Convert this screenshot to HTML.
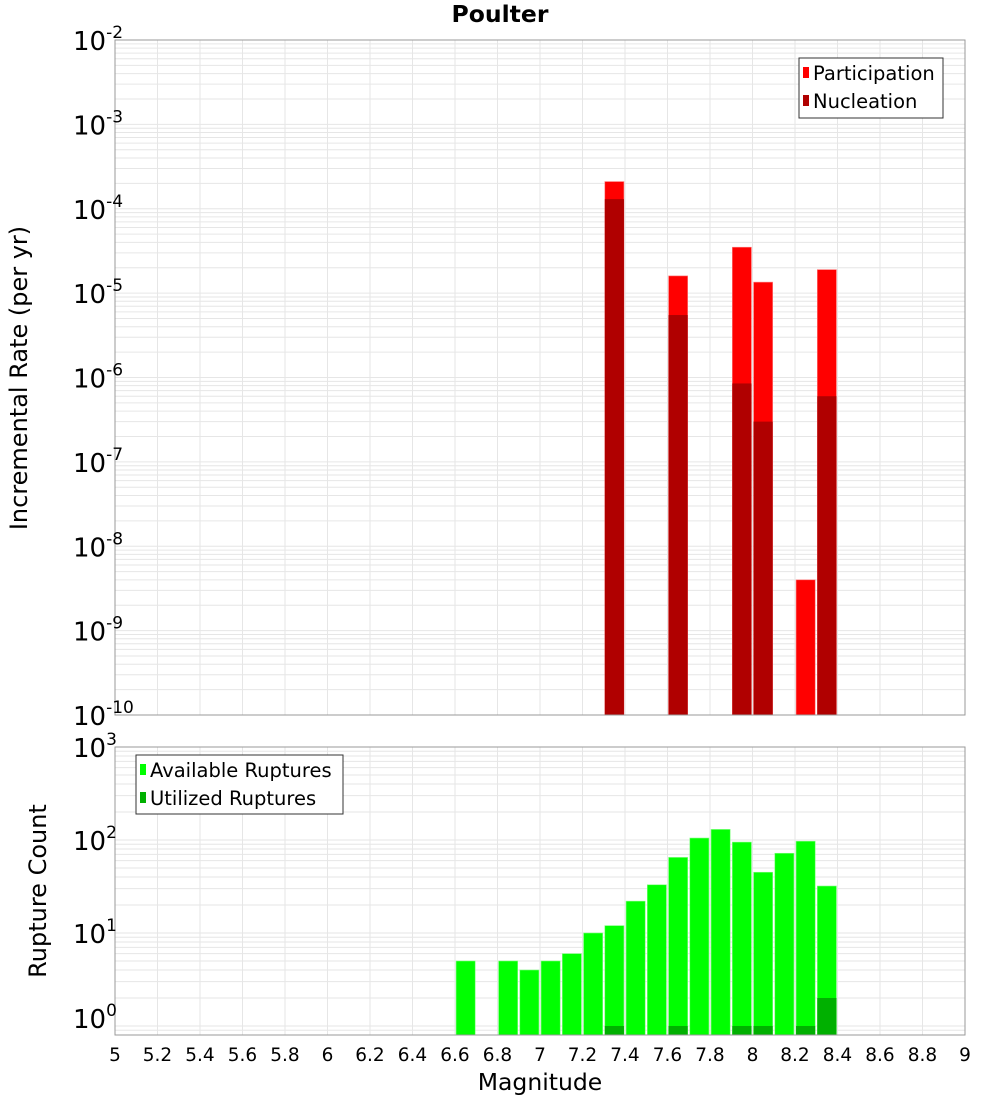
<!DOCTYPE html>
<html><head><meta charset="utf-8"><style>
body{margin:0;background:#fff;font-family:"Liberation Sans","DejaVu Sans",sans-serif}
svg text{font-family:"DejaVu Sans","Liberation Sans",sans-serif}
</style></head><body>
<svg id="c" width="1000" height="1100" xmlns="http://www.w3.org/2000/svg"></svg>
<script>
const bins=[6.65,6.75,6.85,6.95,7.05,7.15,7.25,7.35,7.45,7.55,7.65,7.75,7.85,7.95,8.05,8.15,8.25,8.35];
const participation=[0,0,0,0,0,0,0,2.1e-4,0,0,1.6e-5,0,0,3.5e-5,1.35e-5,0,4e-9,1.9e-5];
const nucleation=[0,0,0,0,0,0,0,1.3e-4,0,0,5.5e-6,0,0,8.5e-7,3e-7,0,0,6e-7];
const available=[5,0,5,4,5,6,10,12,22,33,65,105,130,95,45,72,97,32];
const utilized=[0,0,0,0,0,0,0,1,0,0,1,0,0,1,1,0,1,2];
const xTicks=[5,5.2,5.4,5.6,5.8,6,6.2,6.4,6.6,6.8,7,7.2,7.4,7.6,7.8,8,8.2,8.4,8.6,8.8,9];
const topDecades=[-10,-9,-8,-7,-6,-5,-4,-3,-2];
const botDecades=[0,1,2,3];

const NS="http://www.w3.org/2000/svg",svg=document.getElementById('c');
function el(t,a,p){const e=document.createElementNS(NS,t);for(const k in a)e.setAttribute(k,a[k]);(p||svg).appendChild(e);return e;}
const X0=115,X1=965;
const xs=m=>X0+(m-5)/4*(X1-X0);
const T0=40,T1=715,yTop=v=>T0+(-2-Math.log10(v))/8*(T1-T0);
const B0=747,B1=1035,bLo=Math.log10(0.8),yBot=v=>B0+(3-Math.log10(v))/(3-bLo)*(B1-B0);
const bw=0.09;

function grid(y0,y1,decFrom,decTo,yf,lo){
  for(let d=decFrom;d<decTo;d++)for(let k=1;k<10;k++){const v=k*Math.pow(10,d);if(v<lo)continue;const y=yf(v);if(y<y0||y>y1)continue;
    const l=el('line',{x1:X0,x2:X1,y1:y,y2:y,stroke:'#e6e6e6','stroke-width':1});
    }
  xTicks.forEach(t=>{const x=xs(t);const l=el('line',{x1:x,x2:x,y1:y0,y2:y1,stroke:'#e6e6e6','stroke-width':1});
    });
}
grid(T0,T1,-10,-2,yTop,1e-10);
grid(B0,B1,-1,3,yBot,0.8);

bins.forEach((b,i)=>{
  const x=xs(b-bw/2),w=xs(b+bw/2)-xs(b-bw/2);
  if(participation[i]>0){const y=yTop(participation[i]);const r=el('rect',{x:x,y:y,width:w,height:T1-y,fill:'#ff0000',stroke:'#ff8080','stroke-width':0.6});
    }
  if(nucleation[i]>0){const y=yTop(nucleation[i]);const r=el('rect',{x:x,y:y,width:w,height:T1-y,fill:'#b00000'});
    }
  if(available[i]>0){const y=yBot(available[i]);const r=el('rect',{x:x,y:y,width:w,height:B1-y,fill:'#00ff00',stroke:'#80ff80','stroke-width':0.6});
    }
  if(utilized[i]>0){const y=yBot(utilized[i]);const r=el('rect',{x:x,y:y,width:w,height:B1-y,fill:'#00b000'});
    }
});
let f=el('rect',{x:X0,y:T0,width:X1-X0,height:T1-T0,fill:'none',stroke:'#999','stroke-width':1});

f=el('rect',{x:X0,y:B0,width:X1-X0,height:B1-B0,fill:'none',stroke:'#999','stroke-width':1});


function powLabel(x,y,exp,name){const t=el('text',{x:x,y:y,'font-size':26,fill:'#000'});
  
  t.textContent='10';const s=el('tspan',{dy:-12,'font-size':17},t);s.textContent=String(exp);}
topDecades.forEach(d=>powLabel(73,yTop(Math.pow(10,d))+10,d,'top-y-tick-label'));
botDecades.forEach(d=>powLabel(73,yBot(Math.pow(10,d))+(d===0?2:10),d,'bottom-y-tick-label'));
xTicks.forEach(t=>{const tx=el('text',{x:xs(t),y:1061,'font-size':18.5,'text-anchor':'middle',fill:'#000'});
  tx.textContent=String(t);});

function txt(s,a,name){const t=el('text',a);t.textContent=s;return t;}
txt('Poulter',{x:500,y:22,'font-size':23.5,'font-weight':'bold','text-anchor':'middle'},'chart-title');
txt('Magnitude',{x:540,y:1090,'font-size':23.5,'text-anchor':'middle'},'x-axis-title');
txt('Incremental Rate (per yr)',{x:27,y:378,'font-size':24,'text-anchor':'middle',transform:'rotate(-90 27 378)'},'top-y-axis-title');
txt('Rupture Count',{x:46,y:891,'font-size':24,'text-anchor':'middle',transform:'rotate(-90 46 891)'},'bottom-y-axis-title');

function legend(x,y,w,h,items,name){const g=el('g',{});
  el('rect',{x:x,y:y,width:w,height:h,fill:'#fff',stroke:'#333','stroke-width':1},g);
  items.forEach((it,i)=>{const yy=y+17+i*28;
    const r=el('rect',{x:x+4,y:yy-8,width:6,height:11,fill:it[1]},g);
    const t=el('text',{x:x+14,y:yy+5,'font-size':19.5},g);t.textContent=it[0];});}
legend(799,58,144,60,[['Participation','#ff0000'],['Nucleation','#b00000']],'top-legend');
legend(136,755,207,59,[['Available Ruptures','#00ff00'],['Utilized Ruptures','#00b000']],'bottom-legend');
</script>
</body></html>
